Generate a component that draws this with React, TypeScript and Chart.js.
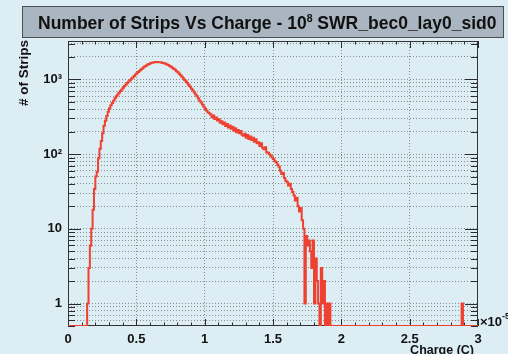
import React, { useEffect, useRef } from 'react';
import { Chart, registerables } from 'chart.js';

Chart.register(...registerables);

// ---- text ----
const titleMain = 'Number of Strips Vs Charge - 10';
const titleSup = '8';
const titleRest = ' SWR_bec0_lay0_sid0';
const yTitle = '# of Strips';
const xTitle = 'Charge (C)';
const xExpBase = '\u00d710';
const xExpSup = '-5';

// ---- data (charge in units of 1e-5 C) ----
const binStart = 0.14;
const binWidth = 0.01;
const counts = [
  1, 3, 6, 10, 18, 34, 50, 58, 88, 118,
  150, 190, 240, 280, 325, 370, 410, 450, 485, 520,
  560, 595, 630, 665, 700, 735, 775, 815, 855, 895,
  935, 975, 1020, 1065, 1110, 1160, 1210, 1255, 1305, 1355,
  1405, 1455, 1500, 1540, 1580, 1615, 1645, 1670, 1690, 1705,
  1715, 1710, 1705, 1695, 1680, 1665, 1645, 1620, 1590, 1555,
  1515, 1475, 1430, 1390, 1345, 1290, 1245, 1195, 1140, 1090,
  1030, 985, 935, 890, 845, 800, 750, 710, 670, 630,
  595, 555, 520, 490, 460, 430, 405, 385, 365, 352,
  340, 312, 330, 296, 310, 282, 294, 264, 276, 252,
  266, 238, 254, 228, 242, 218, 232, 206, 222, 196,
  210, 190, 204, 182, 176, 188, 166, 180, 160, 172,
  154, 166, 146, 158, 140, 144, 128, 140, 122, 116,
  124, 106, 104, 100, 95, 90, 86, 80, 78, 72,
  68, 60, 54, 56, 48, 44, 42, 38, 40, 34,
  31, 28, 24, 26, 20, 17, 19, 13, 10, 1,
  8, 6, 7, 5, 3, 7, 1, 4, 2, 1,
  0, 3, 1, 2, 0, 1, 0, 1,
];
const isolatedBinLow = [2.88];
const isolatedBinCount = [1];

const xMin = 0;
const xMax = 3;
const xMajorStep = 0.5;
const xMinorStep = 0.1;
const yMin = 0.5;
const yMax = 3270;
const yDecadeLabels: Record<string, string> = {
  '1': '1',
  '10': '10',
  '100': '10\u00b2',
  '1000': '10\u00b3',
};

const FONT = '"Liberation Sans", Arial, Helvetica, sans-serif';
const BG = '#dcedf4';
const LINE = '#ef4130';

function buildPoints() {
  const r = (v: number) => Math.round(v * 1000) / 1000;
  const pts: { x: number; y: number }[] = [];
  pts.push({ x: xMin, y: yMin });
  counts.forEach((c, i) => pts.push({ x: r(binStart + i * binWidth), y: c > 0 ? c : yMin }));
  pts.push({ x: r(binStart + counts.length * binWidth), y: yMin });
  isolatedBinLow.forEach((lo, i) => {
    const c = isolatedBinCount[i];
    pts.push({ x: r(lo), y: c > 0 ? c : yMin });
    pts.push({ x: r(lo + binWidth), y: yMin });
  });
  pts.push({ x: xMax, y: yMin });
  return pts;
}

function yTickValues() {
  const out: number[] = [];
  for (let e = -1; e <= 4; e++) {
    for (let m = 1; m <= 9; m++) {
      const v = Math.round(m * Math.pow(10, e) * 1000) / 1000;
      if (v >= yMin && v <= yMax) out.push(v);
    }
  }
  return out;
}

const rootDecor = {
  id: 'rootDecor',
  beforeDraw(chart: any) {
    const ctx = chart.ctx as CanvasRenderingContext2D;
    const W = chart.width;
    const H = chart.height;
    ctx.save();
    ctx.fillStyle = BG;
    ctx.fillRect(0, 0, W, H);

    // title box
    ctx.fillStyle = '#a9b5c0';
    ctx.fillRect(22, 6, 482, 32);
    ctx.strokeStyle = '#4a4f55';
    ctx.lineWidth = 1;
    ctx.strokeRect(22.5, 6.5, 481, 31);

    // title text with superscript
    let size = 18;
    const measure = (s: number) => {
      ctx.font = `bold ${s}px ${FONT}`;
      const a = ctx.measureText(titleMain).width;
      const c = ctx.measureText(titleRest).width;
      ctx.font = `bold ${s * 0.6}px ${FONT}`;
      const b = ctx.measureText(titleSup).width;
      return a + b + c;
    };
    size = size * (459 / measure(size));
    let x = 38;
    const base = 29;
    ctx.fillStyle = '#111';
    ctx.textBaseline = 'alphabetic';
    ctx.textAlign = 'left';
    ctx.font = `bold ${size}px ${FONT}`;
    ctx.fillText(titleMain, x, base);
    x += ctx.measureText(titleMain).width;
    ctx.font = `bold ${size * 0.6}px ${FONT}`;
    ctx.fillText(titleSup, x, base - size * 0.42);
    x += ctx.measureText(titleSup).width;
    ctx.font = `bold ${size}px ${FONT}`;
    ctx.fillText(titleRest, x, base);

    // y title
    ctx.save();
    ctx.translate(24, 40);
    ctx.rotate(-Math.PI / 2);
    ctx.font = `bold 13.5px ${FONT}`;
    ctx.textAlign = 'right';
    ctx.textBaseline = 'middle';
    ctx.fillText(yTitle, 0, 0);
    ctx.restore();

    // x title
    ctx.font = `bold 12.5px ${FONT}`;
    ctx.textAlign = 'right';
    ctx.textBaseline = 'alphabetic';
    ctx.fillText(xTitle, 474, 354);

    // x exponent
    ctx.textAlign = 'left';
    ctx.font = `bold 13px ${FONT}`;
    ctx.fillText(xExpBase, 480, 326);
    const w = ctx.measureText(xExpBase).width;
    ctx.font = `bold 9px ${FONT}`;
    ctx.fillText(xExpSup, 480 + w, 319);
    ctx.restore();
  },
  beforeDatasetsDraw(chart: any) {
    const ctx = chart.ctx as CanvasRenderingContext2D;
    const a = chart.chartArea;
    const xs = chart.scales.x;
    const ys = chart.scales.y;
    ctx.save();
    ctx.strokeStyle = '#2a2a2a';
    ctx.lineWidth = 1;
    ctx.beginPath();
    yTickValues().forEach((v) => {
      const py = Math.round(ys.getPixelForValue(v)) + 0.5;
      const mant = v / Math.pow(10, Math.floor(Math.log10(v) + 1e-9));
      const len = Math.abs(mant - 1) < 1e-6 ? 13 : 7;
      ctx.moveTo(a.left, py);
      ctx.lineTo(a.left + len, py);
      ctx.moveTo(a.right, py);
      ctx.lineTo(a.right - len, py);
    });
    const n = Math.round((xMax - xMin) / xMinorStep);
    for (let i = 0; i <= n; i++) {
      const v = xMin + i * xMinorStep;
      const px = Math.round(xs.getPixelForValue(v)) + 0.5;
      const major = Math.abs(v / xMajorStep - Math.round(v / xMajorStep)) < 1e-6;
      const len = major ? 7 : 3.5;
      ctx.moveTo(px, a.bottom);
      ctx.lineTo(px, a.bottom - len);
      ctx.moveTo(px, a.top);
      ctx.lineTo(px, a.top + len);
    }
    ctx.stroke();
    ctx.strokeStyle = '#333';
    ctx.strokeRect(a.left + 0.5, a.top + 0.5, a.right - a.left - 1, a.bottom - a.top - 1);
    ctx.restore();
  },
};

export default function App() {
  const ref = useRef<HTMLCanvasElement | null>(null);
  useEffect(() => {
    if (!ref.current) return;
    const ticks = yTickValues();
    const gridColor = 'rgba(90,90,90,0.65)';
    const chart = new Chart(ref.current, {
      type: 'line',
      data: {
        datasets: [
          {
            data: buildPoints(),
            borderColor: LINE,
            borderWidth: 2,
            stepped: 'before',
            pointRadius: 0,
            fill: false,
          },
        ],
      },
      options: {
        animation: false,
        responsive: false,
        parsing: false as any,
        layout: { padding: { top: 41, right: 30, left: 0, bottom: 0 } },
        plugins: { legend: { display: false }, title: { display: false }, tooltip: { enabled: false } },
        scales: {
          x: {
            type: 'linear',
            min: xMin,
            max: xMax,
            border: { display: false, dash: [1, 2] },
            grid: {
              color: (c: any) =>
                c.tick && (c.tick.value === xMin || c.tick.value === xMax) ? 'rgba(0,0,0,0)' : gridColor,
              lineWidth: 1,
              drawTicks: false,
            },
            ticks: {
              stepSize: xMajorStep,
              color: '#111',
              font: { family: FONT, size: 13, weight: 'bold' },
              padding: 6,
              maxRotation: 0,
              autoSkip: false,
              callback: (v: any) => String(Number(v)),
            },
            afterFit: (s: any) => {
              s.height = 28;
            },
          } as any,
          y: {
            type: 'logarithmic',
            min: yMin,
            max: yMax,
            border: { display: false, dash: [1, 2] },
            grid: {
              color: (c: any) =>
                c.tick && (c.tick.value === yMin || c.tick.value === yMax) ? 'rgba(0,0,0,0)' : gridColor,
              lineWidth: 1,
              drawTicks: false,
            },
            afterBuildTicks: (s: any) => {
              s.ticks = ticks.map((v) => ({ value: v }));
            },
            ticks: {
              autoSkip: false,
              color: '#111',
              font: { family: FONT, size: 13, weight: 'bold' },
              padding: 6,
              callback: (v: any) => yDecadeLabels[String(v)] ?? '',
            },
            afterFit: (s: any) => {
              s.width = 68;
            },
          } as any,
        },
      },
      plugins: [rootDecor],
    });
    return () => chart.destroy();
  }, []);
  return (
    <div style={{ position: 'absolute', left: 0, top: 0, width: 508, height: 354, background: BG }}>
      <canvas ref={ref} width={508} height={354} style={{ display: 'block', width: 508, height: 354 }} />
    </div>
  );
}
